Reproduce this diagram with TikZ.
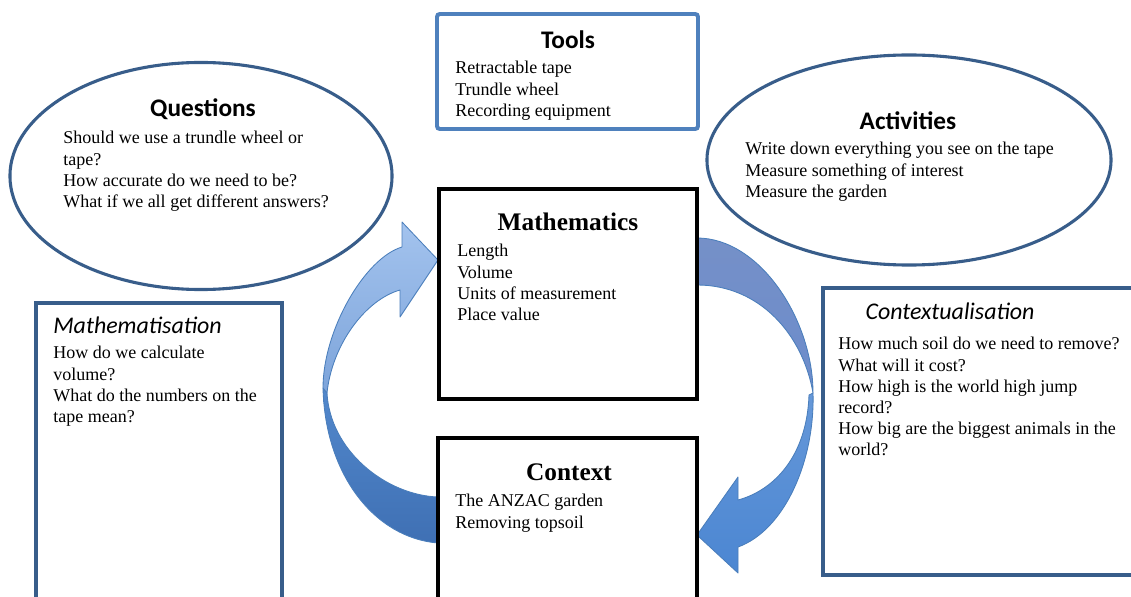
\documentclass[tikz,border=0pt]{standalone}
\usepackage{fontspec}
\setmainfont{Liberation Serif}
\newfontfamily\headfont{Carlito}
\usepackage{tikz}
\usetikzlibrary{shapes.geometric,fit}
\definecolor{toolblue}  {HTML}{4F81BD}
\definecolor{darkblue}  {HTML}{385D8A}
\definecolor{arrowline} {HTML}{4A7EBB}
\definecolor{frontlite} {HTML}{A3C3EE}
\definecolor{frontmid}  {HTML}{7DA4DA}
\definecolor{backdark}  {HTML}{3F70B4}
\definecolor{backmid}   {HTML}{5288CC}
\definecolor{greyband}  {HTML}{7590C8}
\definecolor{greyband2} {HTML}{6C8CCB}
\definecolor{brightband}{HTML}{4B86D2}

\begin{document}
\begin{tikzpicture}[
  x=0.025cm,y=-0.025cm,
  bluebox/.style={draw=toolblue,line width=2.8pt,rounded corners=2pt,inner sep=0pt},
  navybox/.style={draw=darkblue,line width=2.4pt,inner sep=0pt},
  blackbox/.style={draw=black,line width=2.6pt,inner sep=0pt},
  bubble/.style={ellipse,draw=darkblue,line width=2.2pt,inner sep=0pt},
  sanstitle/.style={font=\headfont\bfseries\fontsize{18}{20}\selectfont,inner sep=0pt},
  seriftitle/.style={font=\bfseries\fontsize{18}{20}\selectfont,inner sep=0pt},
  slanttitle/.style={font=\headfont\itshape\fontsize{17}{19}\selectfont,inner sep=0pt},
  items/.style={font=\fontsize{12.8}{15.1}\selectfont,align=left,inner sep=0pt,anchor=north west},
  band/.style={draw=arrowline,line width=0.6pt,line join=round}
]
\clip (0,0) rectangle (1131,597);
\fill[white] (0,0) rectangle (1131,597);

% left curved arrow: Context -> Mathematics
\draw[band,top color=backmid,bottom color=backdark]
  (327,393) .. controls (330,450) and (385,495) .. (438,497)
  -- (438,543) .. controls (375,538) and (325,475) .. (323,388) -- cycle;
\draw[band,top color=frontlite,bottom color=frontmid]
  (323,388) .. controls (323,330) and (365,258) .. (402,247)
  -- (402,222) -- (438,260) -- (400,317) -- (400,290)
  .. controls (365,300) and (332,345) .. (327,393) -- cycle;

% right curved arrow: Mathematics -> Context
\draw[band,top color=greyband,bottom color=greyband2]
  (697,238) .. controls (760,238) and (813,320) .. (813,393)
  .. controls (803,335) and (760,285) .. (697,285) -- cycle;
\draw[band,top color=brightband!85!white,bottom color=brightband]
  (813,393) .. controls (815,460) and (785,530) .. (738,547)
  -- (738,573) -- (697,535) -- (738,477) -- (738,500)
  .. controls (775,490) and (807,455) .. (809,395) -- cycle;

% Tools
\node[bluebox,fit={(437,14) (698,129)}] (tools) {};
\node[sanstitle] (toolsT) at (568,40) {Tools};
\node[items] (toolsL) at (455,61)
  {Retractable tape\\Trundle wheel\\Recording equipment};

% Questions
\node[bubble,minimum width=9.55cm,minimum height=5.675cm] (quest) at (201,176) {};
\node[sanstitle] (questT) at (203,109) {Questions};
\node[items] (questL) at (63,131)
  {Should we use a trundle wheel or\\tape?\\How accurate do we need to be?\\What if we all get different answers?};

% Activities
\node[bubble,minimum width=10.1cm,minimum height=5.25cm] (activ) at (909,160) {};
\node[sanstitle] (activT) at (908,121) {Activities};
\node[items] (activL) at (745,142)
  {Write down everything you see on the tape\\Measure something of interest\\Measure the garden};

% Mathematics
\node[blackbox,fit={(439,189) (697,399)}] (maths) {};
\node[seriftitle] (mathsT) at (568,222) {Mathematics};
\node[items] (mathsL) at (457,244)
  {Length\\Volume\\Units of measurement\\Place value};

% Context
\node[blackbox,fit={(438,438) (697,620)}] (ctx) {};
\node[seriftitle] (ctxT) at (569,472) {Context};
\node[items] (ctxL) at (455,494) {The ANZAC garden\\Removing topsoil};

% Mathematisation
\node[navybox,fit={(36,303) (282,620)}] (mtn) {};
\node[slanttitle,anchor=west] (mtnT) at (53,325) {Mathematisation};
\node[items] (mtnL) at (53,346)
  {How do we calculate\\volume?\\What do the numbers on the\\tape mean?};

% Contextualisation
\node[navybox,fit={(823,288) (1145,575)}] (ctn) {};
\node[slanttitle] (ctnT) at (950,311) {Contextualisation};
\node[items] (ctnL) at (838,337)
  {How much soil do we need to remove?\\What will it cost?\\How high is the world high jump\\record?\\How big are the biggest animals in the\\world?};
\end{tikzpicture}
\end{document}
